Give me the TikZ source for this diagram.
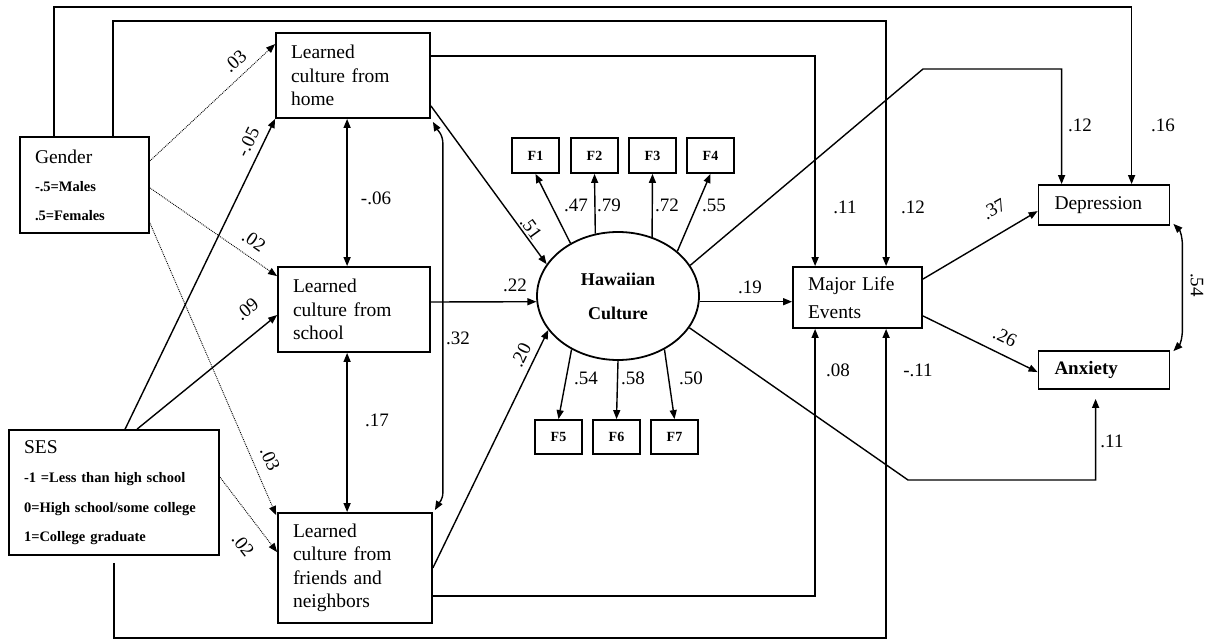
\documentclass[tikz,border=0pt]{standalone}
\usepackage{fontspec}
\setmainfont{Liberation Serif}
\usetikzlibrary{arrows.meta,shapes.geometric}
\tikzset{
  box/.style={draw,line width=1.8,rectangle,align=left,inner xsep=15,inner ysep=0},
  fbox/.style={draw,line width=1.8,rectangle,minimum width=47,minimum height=35,inner sep=0,font=\fontsize{14}{16}\selectfont\bfseries},
  conn/.style={line width=1.4,-{Triangle[length=9,width=7]}},
  dconn/.style={line width=1.4,{Triangle[length=9,width=7]}-{Triangle[length=9,width=7]}},
  plain/.style={line width=1.4},
  dotconn/.style={line width=0.9,densely dotted,-{Triangle[length=9,width=7]}},
  lbl/.style={inner sep=0,font=\fontsize{19}{22}\selectfont},
  boxfont/.style={font=\fontsize{19.5}{23.5}\selectfont},
}
\begin{document}
\begin{tikzpicture}[x=1pt,y=-1pt]
\useasboundingbox (0,0) rectangle (1211,642);
\fill[white] (0,0) rectangle (1211,642);

% nodes
\node[box,minimum width=129,minimum height=96,text width=99,font=\fontsize{14.5}{28.5}\selectfont\bfseries] (gender) at (84.5,185)
  {{\mdseries\fontsize{19.5}{28.5}\selectfont Gender}\\-.5=Males\\.5=Females};
\node[box,minimum width=210,minimum height=125,text width=180,font=\fontsize{14.5}{29.5}\selectfont\bfseries] (ses) at (114,492.5)
  {{\mdseries\fontsize{19.5}{29.5}\selectfont SES}\\-1 =Less than high school\\0=High school/some college\\1=College graduate};
\node[box,boxfont,minimum width=154,minimum height=85,text width=124] (home) at (353,75.5)
  {Learned\\culture from\\home};
\node[box,boxfont,minimum width=152,minimum height=85,text width=122] (school) at (354,309.5)
  {Learned\\culture from\\school};
\node[box,boxfont,minimum width=154,minimum height=110,text width=124] (friends) at (355,568)
  {Learned\\culture from\\friends and\\neighbors};
\node[draw,line width=1.8,ellipse,minimum width=162,minimum height=128,inner sep=0,align=center,font=\fontsize{18}{34}\selectfont\bfseries] (haw) at (618,296)
  {Hawaiian\\Culture};
\node[fbox] (f1) at (535.5,155.5) {F1};
\node[fbox] (f2) at (594.5,155.5) {F2};
\node[fbox] (f3) at (652.5,155.5) {F3};
\node[fbox] (f4) at (710.5,155.5) {F4};
\node[fbox,minimum height=34] (f5) at (558.5,437) {F5};
\node[fbox,minimum height=34] (f6) at (616.5,437) {F6};
\node[fbox,minimum height=34] (f7) at (674.5,437) {F7};
\node[box,minimum width=129,minimum height=61,text width=99,font=\fontsize{19.5}{28}\selectfont] (mle) at (857.5,297.5)
  {Major Life\\Events};
\node[box,minimum width=130,minimum height=40,text width=99,inner xsep=16,font=\fontsize{19.5}{23}\selectfont] (dep) at (1104,205) {Depression};
\node[box,minimum width=130,minimum height=38,text width=99,inner xsep=16,font=\fontsize{19}{23}\selectfont\bfseries] (anx) at (1104,370) {Anxiety};

% helper corners
\coordinate (c1) at (923,69);
\coordinate (c2) at (908,480);

% long top lines
\draw[conn] ([shift={(35,0)}]gender.north west) -- ++(0,-129) -| ([shift={(94,0)}]dep.north west);
\draw[conn] ([shift={(94,0)}]gender.north west) -- ++(0,-115) -| ([shift={(94,0)}]mle.north west);
\draw[conn] ([shift={(0,24)}]home.north east) -| ([shift={(23,0)}]mle.north west);
\draw[conn] (haw.23) -- (c1) -| ([shift={(24,0)}]dep.north west);

% correlations among learned culture
\draw[dconn] ([shift={(72,0)}]home.south west) -- ([shift={(70,0)}]school.north west);
\draw[dconn] ([shift={(70,0)}]school.south west) -- ([shift={(70,0)}]friends.north west);
\draw[dconn] ([shift={(2,3)}]home.south east) to[out=-60,in=90] ([shift={(12,25)}]home.south east)
  -- ([shift={(10,-20)}]friends.north east) to[out=-90,in=60] ([shift={(2,-2)}]friends.north east);

% to Hawaiian culture
\draw[conn] ([shift={(0,-13)}]home.south east) -- (haw.156);
\draw[conn] ([shift={(0,-7.5)}]school.east) -- (haw.184);
\draw[conn] ([shift={(0,-56)}]friends.south east) -- (haw.206);

% indicators
\draw[conn] (haw.132) -- (f1.south);
\draw[conn] (haw.110) -- (f2.south);
\draw[conn] (haw.60) -- (f3.south);
\draw[conn] (haw.37) -- (f4.south);
\draw[conn] (haw.229) -- (f5.north);
\draw[conn] (haw.south) -- (f6.north);
\draw[conn] (haw.311) -- (f7.north);

% Hawaiian culture outputs
\draw[conn] (haw.-4) -- (haw.-4 -| mle.west);
\draw[conn] (haw.336) -- (c2) -| ([shift={(58,9)}]anx.south west);

% to MLE from below
\draw[conn] ([shift={(0,-28)}]friends.south east) -| ([shift={(23,0)}]mle.south west);
\draw[conn] ([shift={(106,7)}]ses.south west) -- ++(0,75) -| ([shift={(94,0)}]mle.south west);

% MLE outputs
\draw[conn] ([shift={(0,13)}]mle.north east) -- ([shift={(0,27)}]dep.north west);
\draw[conn] ([shift={(0,-13)}]mle.south east) -- ([shift={(0,22)}]anx.north west);
\draw[dconn] ([shift={(3,-2)}]dep.south east) to[out=-45,in=90] ([shift={(12,20)}]dep.south east)
  -- ([shift={(12,-21)}]anx.north east) to[out=-90,in=45] ([shift={(3,1)}]anx.north east);

% gender and SES paths
\draw[dotconn] ([shift={(0,-73)}]gender.south east) -- ([shift={(0,12)}]home.north west);
\draw[dotconn] ([shift={(0,-46)}]gender.south east) -- ([shift={(0,10)}]school.north west);
\draw[dotconn] ([shift={(0,-11)}]gender.south east) -- ([shift={(-1,3)}]friends.north west);
\draw[dotconn] ([shift={(0,48)}]ses.north east) -- ([shift={(0,40)}]friends.north west);
\draw[conn] ([shift={(117,0)}]ses.north west) -- (home.south west);
\draw[conn] ([shift={(129,0)}]ses.north west) -- ([shift={(0,5.5)}]school.west);

% labels
\node[lbl] (l16) at (1163,125) {.16};
\node[lbl] (l12a) at (913,207) {.12};
\node[lbl] (l11a) at (845,207) {.11};
\node[lbl] (l12b) at (1080,125) {.12};
\node[lbl] (l06) at (376,198) {-.06};
\node[lbl] (l17) at (377,420) {.17};
\node[lbl] (l32) at (458,338) {.32};
\node[lbl,rotate=-54] (l51) at (531,228) {.51};
\node[lbl] (l22) at (515,285) {.22};
\node[lbl,rotate=64] (l20) at (521,355) {.20};
\node[lbl] (l19) at (750,287) {.19};
\node[lbl] (l47) at (576,205) {.47};
\node[lbl] (l79) at (609,205) {.79};
\node[lbl] (l72) at (667,205) {.72};
\node[lbl] (l55) at (714,205) {.55};
\node[lbl] (l54a) at (586,378) {.54};
\node[lbl] (l58) at (633,378) {.58};
\node[lbl] (l50) at (691,378) {.50};
\node[lbl] (l11b) at (1112,441) {.11};
\node[lbl] (l08) at (838,370) {.08};
\node[lbl] (l11c) at (918,370) {-.11};
\node[lbl,rotate=30] (l37) at (994,209) {.37};
\node[lbl,rotate=-26] (l26) at (1005,337) {.26};
\node[lbl,rotate=-90] (l54b) at (1197,285) {.54};
\node[lbl,rotate=42] (l03a) at (235,61) {.03};
\node[lbl,rotate=-35] (l02a) at (254,241) {.02};
\node[lbl,rotate=-66] (l03b) at (270,459) {.03};
\node[lbl,rotate=-52] (l02b) at (243,545) {.02};
\node[lbl,rotate=64] (l05) at (248,142) {-.05};
\node[lbl,rotate=39] (l09) at (247,309) {.09};
\end{tikzpicture}
\end{document}
